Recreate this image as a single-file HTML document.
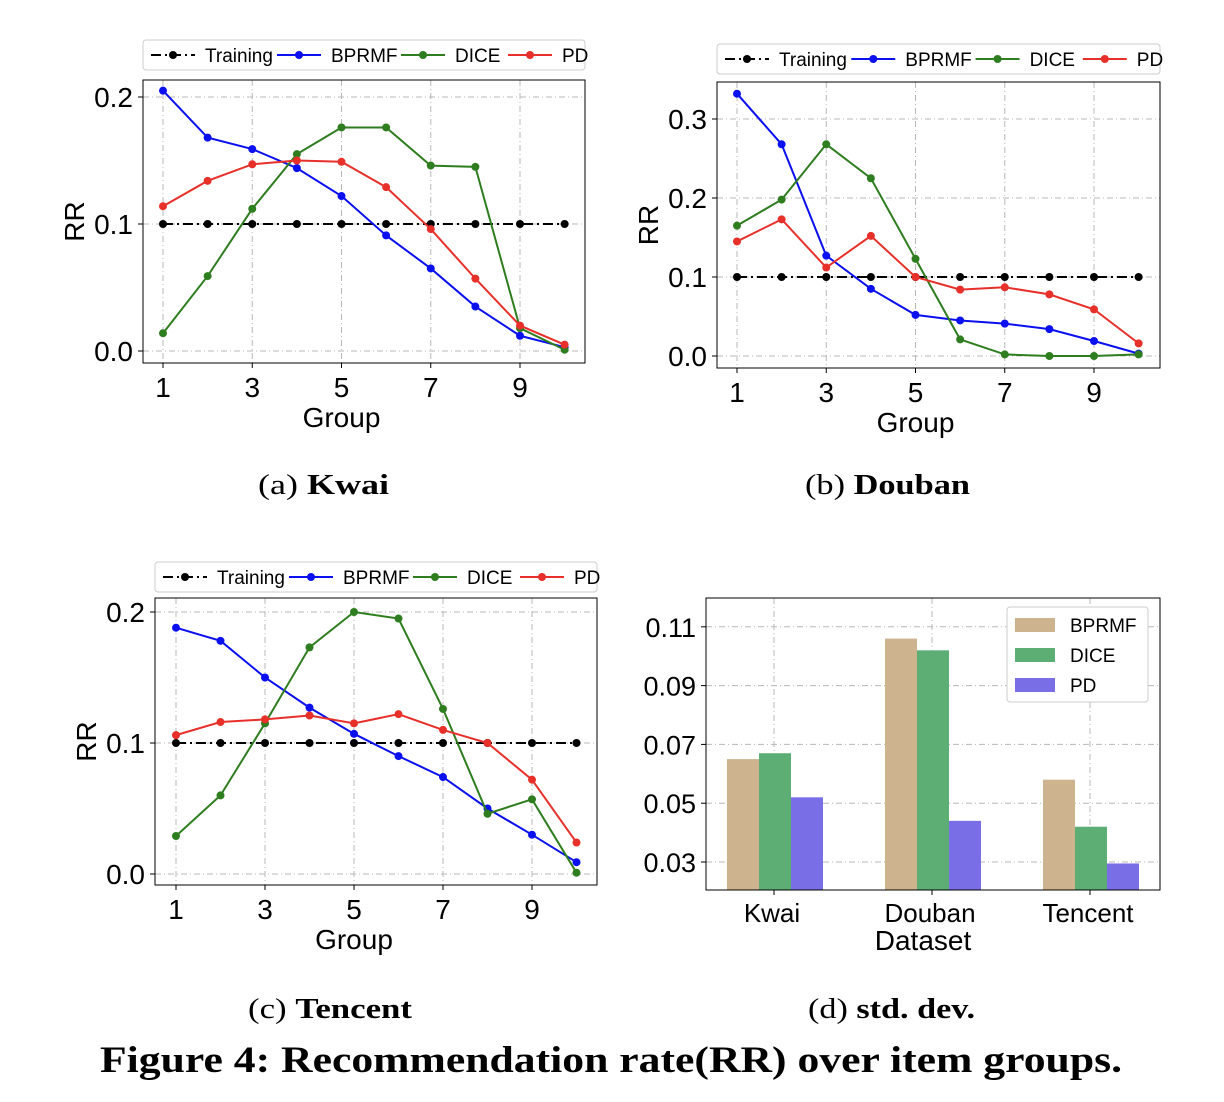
<!DOCTYPE html>
<html><head><meta charset="utf-8">
<style>
html,body{margin:0;padding:0;background:#fff;}
svg{display:block;}
text{font-family:"Liberation Sans",sans-serif;}
.serif{font-family:"Liberation Serif",serif;}
</style></head>
<body>
<svg id="fig" width="1224" height="1102" viewBox="0 0 1224 1102" xmlns="http://www.w3.org/2000/svg"></svg>
<script>
const groups = [1,2,3,4,5,6,7,8,9,10];
const xTickLabels = [1,3,5,7,9];
const seriesNames = ["Training","BPRMF","DICE","PD"];
const seriesColors = ["#000000","#0a10f0","#2e7d1f","#e8302a"];

const kwaiTraining = [0.1,0.1,0.1,0.1,0.1,0.1,0.1,0.1,0.1,0.1];
const kwaiBPRMF = [0.205,0.168,0.159,0.144,0.122,0.091,0.065,0.035,0.012,0.003];
const kwaiDICE = [0.014,0.059,0.112,0.155,0.176,0.176,0.146,0.145,0.018,0.001];
const kwaiPD = [0.114,0.134,0.147,0.150,0.149,0.129,0.096,0.057,0.020,0.005];
const kwaiYTicks = [0.0,0.1,0.2];

const doubanTraining = [0.1,0.1,0.1,0.1,0.1,0.1,0.1,0.1,0.1,0.1];
const doubanBPRMF = [0.332,0.268,0.127,0.085,0.052,0.045,0.041,0.034,0.019,0.003];
const doubanDICE = [0.165,0.198,0.268,0.225,0.123,0.021,0.002,0.0,0.0,0.002];
const doubanPD = [0.145,0.173,0.112,0.152,0.100,0.084,0.087,0.078,0.059,0.016];
const doubanYTicks = [0.0,0.1,0.2,0.3];

const tencentTraining = [0.1,0.1,0.1,0.1,0.1,0.1,0.1,0.1,0.1,0.1];
const tencentBPRMF = [0.188,0.178,0.150,0.127,0.107,0.090,0.074,0.050,0.030,0.009];
const tencentDICE = [0.029,0.060,0.115,0.173,0.200,0.195,0.126,0.046,0.057,0.001];
const tencentPD = [0.106,0.116,0.118,0.121,0.115,0.122,0.110,0.100,0.072,0.024];
const tencentYTicks = [0.0,0.1,0.2];

const datasets = ["Kwai","Douban","Tencent"];
const stdBPRMF = [0.065,0.106,0.058];
const stdDICE = [0.067,0.102,0.042];
const stdPD = [0.052,0.044,0.0295];
const stdYTicks = [0.03,0.05,0.07,0.09,0.11];
const barColors = ["#cdb48e","#5cae74","#7a6ee6"];

const NS="http://www.w3.org/2000/svg";
const svg=document.getElementById('fig');
function mk(tag,attrs,parent,txt){const e=document.createElementNS(NS,tag);for(const k in attrs)e.setAttribute(k,attrs[k]);if(txt!==undefined)e.textContent=txt;(parent||svg).appendChild(e);return e;}

function lineChart(cfg){
  const g=mk('g',{});
  
  
  const X=v=>cfg.x1+(v-1)*(cfg.x9-cfg.x1)/8;
  const Y=v=>cfg.y0-v*cfg.yScale;
  xTickLabels.forEach(t=>{const l=mk('line',{x1:X(t),x2:X(t),y1:cfg.top,y2:cfg.bottom,stroke:'#b8b8b8','stroke-width':1,'stroke-dasharray':'6,3,1,3'},g);
    });
  cfg.yTicks.forEach(t=>{const l=mk('line',{x1:cfg.left,x2:cfg.right,y1:Y(t),y2:Y(t),stroke:'#b8b8b8','stroke-width':1,'stroke-dasharray':'6,3,1,3'},g);
    });
  const fr=mk('rect',{x:cfg.left,y:cfg.top,width:cfg.right-cfg.left,height:cfg.bottom-cfg.top,fill:'none',stroke:'#000','stroke-width':1},g);
  
  xTickLabels.forEach(t=>{mk('line',{x1:X(t),x2:X(t),y1:cfg.bottom,y2:cfg.bottom+5,stroke:'#000'},g);
    const tx=mk('text',{x:X(t),y:cfg.bottom+34,'font-size':28,'text-anchor':'middle'},g,String(t));
    });
  cfg.yTicks.forEach(t=>{mk('line',{x1:cfg.left-5,x2:cfg.left,y1:Y(t),y2:Y(t),stroke:'#000'},g);
    const tx=mk('text',{x:cfg.left-10,y:Y(t)+10,'font-size':28,'text-anchor':'end'},g,t.toFixed(1));
    });
  const xl=mk('text',{x:X(5),y:cfg.bottom+64,'font-size':28,'text-anchor':'middle'},g,'Group');
  
  const yl=mk('text',{x:0,y:0,'font-size':28,'text-anchor':'middle',transform:`translate(${cfg.left-59},${(cfg.top+cfg.bottom)/2}) rotate(-90)`},g,'RR');
  
  cfg.series.forEach((s,i)=>{
    const pts=s.map((v,j)=>X(groups[j])+','+Y(v)).join(' ');
    const pl=mk('polyline',{points:pts,fill:'none',stroke:seriesColors[i],'stroke-width':2,'stroke-dasharray':i===0?'10,4,2,4':'none'},g);
    
    s.forEach((v,j)=>{const c=mk('circle',{cx:X(groups[j]),cy:Y(v),r:4,fill:seriesColors[i]},g);
      });
  });
  const lg=mk('g',{},g);
  
  mk('rect',{x:cfg.lx,y:cfg.ly,width:cfg.lw,height:30,fill:'#fff',stroke:'#ccc',rx:3},lg);
  const offs=[0,126,250,357];
  seriesNames.forEach((n,i)=>{
    const bx=cfg.lx+8+offs[i]*(cfg.lw/442);const cy=cfg.ly+15;
    mk('line',{x1:bx,x2:bx+44,y1:cy,y2:cy,stroke:seriesColors[i],'stroke-width':2,'stroke-dasharray':i===0?'10,4,2,4':'none'},lg);
    mk('circle',{cx:bx+22,cy:cy,r:4,fill:seriesColors[i]},lg);
    const t=mk('text',{x:bx+54,y:cy+7,'font-size':19},lg,n);
    
  });
}

lineChart({name:'kwai-chart',left:143,right:585,top:80,bottom:363,x1:163,x9:520,y0:351,yScale:1270,yTicks:kwaiYTicks,
  series:[kwaiTraining,kwaiBPRMF,kwaiDICE,kwaiPD],lx:143,ly:40,lw:442});
lineChart({name:'douban-chart',left:717,right:1160,top:82,bottom:368,x1:737,x9:1094,y0:356,yScale:790,yTicks:doubanYTicks,
  series:[doubanTraining,doubanBPRMF,doubanDICE,doubanPD],lx:717,ly:44,lw:443});
lineChart({name:'tencent-chart',left:155,right:597,top:598,bottom:885,x1:176,x9:532,y0:874,yScale:1310,yTicks:tencentYTicks,
  series:[tencentTraining,tencentBPRMF,tencentDICE,tencentPD],lx:155,ly:562,lw:442});

(function(){
  const g=mk('g',{});
  
  const L=706,R=1160,T=598,B=890;
  const Y=v=>862-(v-0.03)*2940;
  const GX=i=>774+i*158;
  stdYTicks.forEach(t=>{mk('line',{x1:L,x2:R,y1:Y(t),y2:Y(t),stroke:'#b8b8b8','stroke-dasharray':'6,3,1,3'},g);
    mk('line',{x1:L-5,x2:L,y1:Y(t),y2:Y(t),stroke:'#000'},g);
    const tx=mk('text',{x:L-10,y:Y(t)+10,'font-size':27,'text-anchor':'end'},g,t.toFixed(2));
    });
  datasets.forEach((d,i)=>{mk('line',{x1:GX(i),x2:GX(i),y1:T,y2:B,stroke:'#b8b8b8','stroke-dasharray':'6,3,1,3'},g);});
  [stdBPRMF,stdDICE,stdPD].forEach((arr,k)=>{
    arr.forEach((v,i)=>{const x=GX(i)-47+k*32;
      const r=mk('rect',{x:x,y:Y(v),width:32,height:B-Y(v),fill:barColors[k]},g);
      
      });
  });
  mk('rect',{x:L,y:T,width:R-L,height:B-T,fill:'none',stroke:'#000'},g);
  datasets.forEach((d,i)=>{mk('line',{x1:GX(i),x2:GX(i),y1:B,y2:B+5,stroke:'#000'},g);
    const tx=mk('text',{x:GX(i)-2,y:B+32,'font-size':26,'text-anchor':'middle'},g,d);
    });
  const xl=mk('text',{x:923,y:950,'font-size':28,'text-anchor':'middle'},g,'Dataset');
  
  const lg=mk('g',{},g);
  
  mk('rect',{x:1007,y:607,width:141,height:95,fill:'#fff',stroke:'#ccc',rx:3},lg);
  ['BPRMF','DICE','PD'].forEach((n,k)=>{
    mk('rect',{x:1015,y:618+k*30,width:40,height:14,fill:barColors[k]},lg);
    const t=mk('text',{x:1070,y:632+k*30,'font-size':19},lg,n);
    
  });
})();

[[258,494,131,'(a)  ','Kwai'],[805,494,165,'(b) ','Douban'],[248,1018,164,'(c) ','Tencent'],[808,1018,167,'(d) ','std. dev.']].forEach(c=>{
  const t=mk('text',{x:c[0],y:c[1],'font-size':28,textLength:c[2],lengthAdjust:'spacingAndGlyphs',class:'serif'});
  
  mk('tspan',{},t,c[3]);mk('tspan',{'font-weight':'bold'},t,c[4]);
});
const title=mk('text',{x:100,y:1072,'font-size':37,'font-weight':'bold',textLength:1022,lengthAdjust:'spacingAndGlyphs',class:'serif'},svg,'Figure 4: Recommendation rate(RR) over item groups.');

</script>
</body></html>
